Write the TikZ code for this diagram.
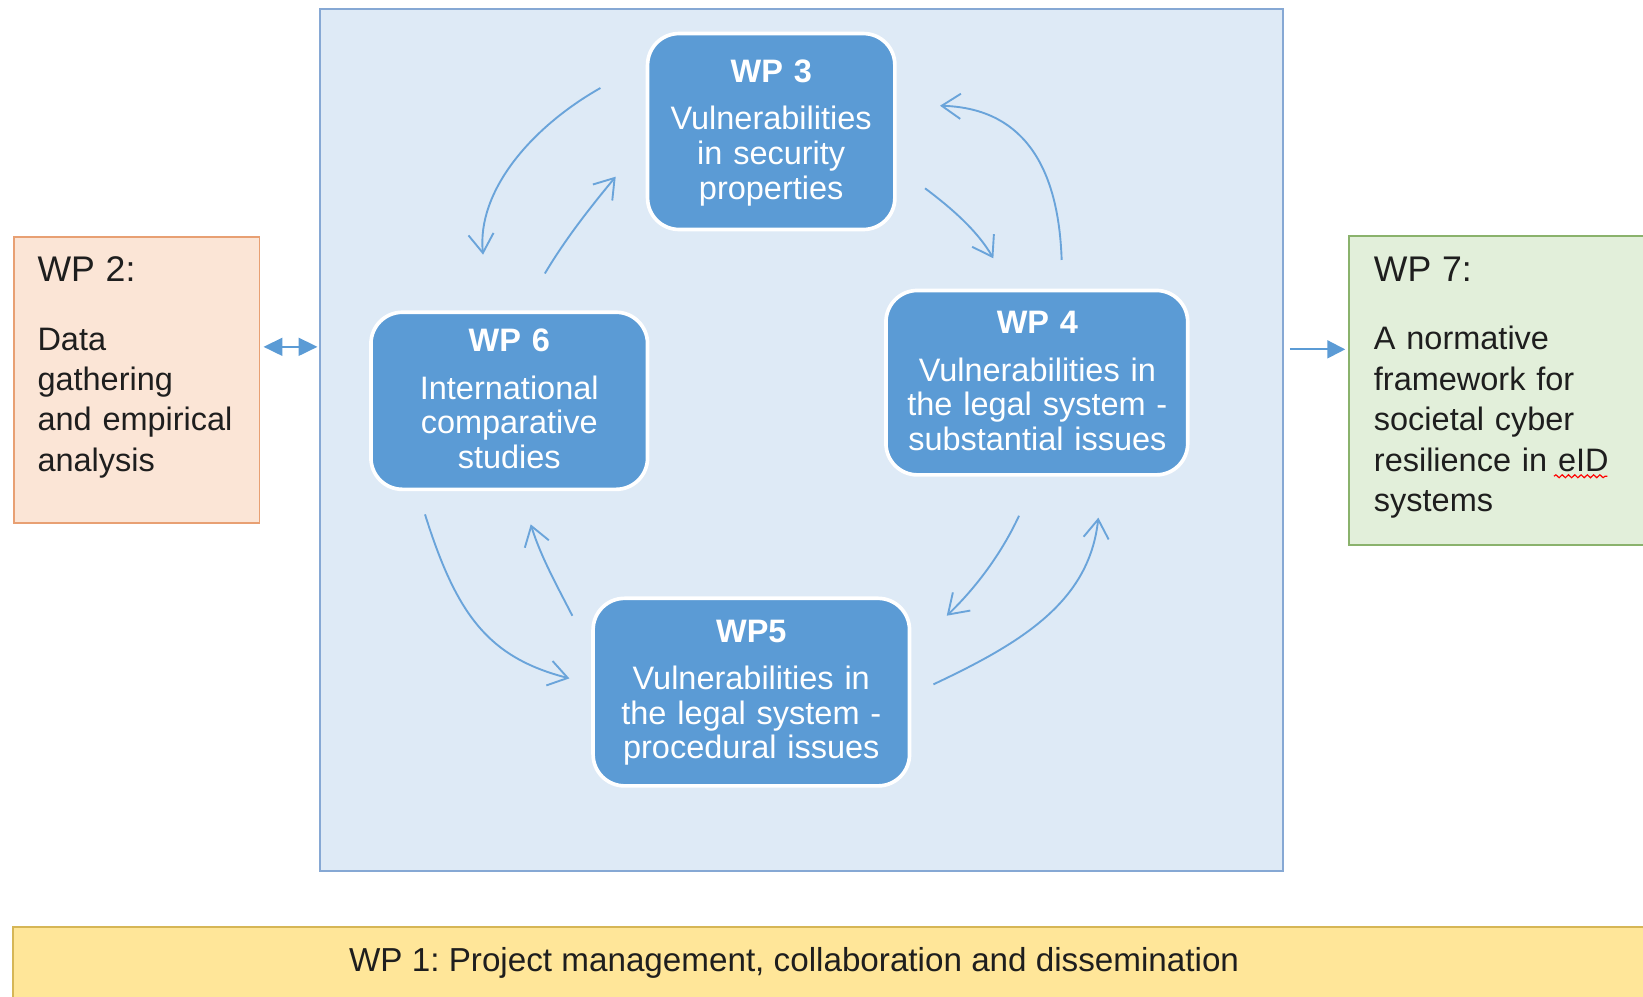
\documentclass[tikz,border=0pt]{standalone}
\usepackage{fontspec}
\setmainfont{Liberation Sans}
\usetikzlibrary{arrows.meta,decorations.pathmorphing}
\frenchspacing
\definecolor{bigfill}{HTML}{DEEAF6}
\definecolor{bigdraw}{HTML}{86A8D4}
\definecolor{boxblue}{HTML}{5B9BD5}
\definecolor{arrowblue}{HTML}{6AA4DA}
\definecolor{wptwofill}{HTML}{FBE5D6}
\definecolor{wptwodraw}{HTML}{E8A073}
\definecolor{wpsevenfill}{HTML}{E2EFDA}
\definecolor{wpsevendraw}{HTML}{8AB26C}
\definecolor{wponefill}{HTML}{FFE699}
\definecolor{wponedraw}{HTML}{D6B656}
\definecolor{inktext}{HTML}{1E1E1E}
\newcommand{\sidetitle}[1]{{\fontsize{34}{38.6}\selectfont #1}}
\tikzset{
  bluebox/.style={draw=white, line width=3.5pt, fill=boxblue, rounded corners=30pt, inner sep=0pt},
  boxtext/.style={text=white, align=center, text width=330pt, inner sep=0pt, anchor=base,
    font=\fontsize{31}{33}\selectfont},
  sidebox/.style={line width=1.8pt, inner sep=0pt, anchor=north west},
  sidetext/.style={text=inktext, align=left, text width=250pt, inner sep=0pt, anchor=base west,
    font=\fontsize{31}{38.6}\selectfont},
  cyc/.style={draw=arrowblue, line width=1.8pt, -{Straight Barb[length=18pt,width=24pt]}},
  solidarrow/.style={draw=boxblue, line width=2pt},
}
\begin{document}
\begin{tikzpicture}[x=1pt,y=-1pt]
\useasboundingbox (0,0) rectangle (1568,951);
\clip (0,0) rectangle (1568,951);
\fill[white] (0,0) rectangle (1568,951);

% big central frame
\node[draw=bigdraw, fill=bigfill, line width=2pt, inner sep=0pt, anchor=north west,
      minimum width=919pt, minimum height=822pt] (big) at (304,8) {};

% side boxes
\node[sidebox, draw=wptwodraw, fill=wptwofill, minimum width=234pt, minimum height=272.7pt] (wp2) at (12.7,225.2) {};
\node[sidetext] (wp2t) at (35.6,269) {\sidetitle{WP 2:}\\[26.5pt]Data\\gathering\\and empirical\\analysis};

\node[sidebox, draw=wpsevendraw, fill=wpsevenfill, minimum width=320pt, minimum height=295pt] (wp7) at (1286.8,224.3) {};
\node[sidetext] (wp7t) at (1311,268.8) {\sidetitle{WP 7:}\\[26.5pt]A normative\\framework for\\societal cyber\\resilience in eID\\systems};
\draw[red, line width=1.1pt, decorate, decoration={snake, amplitude=1.4pt, segment length=6pt}]
  (1483,454.5) -- (1534,454.5);

% bottom bar
\node[sidebox, draw=wponedraw, fill=wponefill, minimum width=1620pt, minimum height=120pt] (wp1) at (11.5,884) {};
\node[text=inktext, inner sep=0pt, anchor=base west, font=\fontsize{31.7}{33}\selectfont] (wp1t) at (333,927)
  {WP 1: Project management, collaboration and dissemination};

% blue work package boxes
\node[bluebox, minimum width=236pt, minimum height=187pt] (wp3) at (736,125.5) {};
\node[boxtext] (wp3t) at (736,79) {\textbf{WP 3}\\[12pt]Vulnerabilities\\in security\\properties};

\node[bluebox, minimum width=288pt, minimum height=176pt] (wp4) at (989.5,365.2) {};
\node[boxtext] (wp4t) at (990,318) {\textbf{WP 4}\\[13pt]Vulnerabilities in\\the legal system -\\substantial issues};

\node[bluebox, minimum width=264pt, minimum height=169pt] (wp6) at (486,382.5) {};
\node[boxtext] (wp6t) at (486,335.6) {\textbf{WP 6}\\[12.5pt]International\\comparative\\studies};

\node[bluebox, minimum width=302pt, minimum height=179pt] (wp5) at (717,660.5) {};
\node[boxtext] (wp5t) at (717,613.3) {\textbf{WP5}\\[12pt]Vulnerabilities in\\the legal system -\\procedural issues};

% connectors to side boxes
\coordinate (dbl) at (0,331);
\coordinate (single) at (0,333.4);
\draw[solidarrow, {Triangle[length=18pt,width=17pt]}-{Triangle[length=18pt,width=17pt]},
      shorten <=3pt, shorten >=1pt] (wp2.east |- dbl) -- (big.west |- dbl);
\draw[solidarrow, -{Triangle[length=17pt,width=17pt]}, shorten <=6pt, shorten >=3pt]
  (big.east |- single) -- (wp7.west |- single);

% cycle arrows
\coordinate (a1s) at (573,84);     \coordinate (a1e) at (461,243);
\coordinate (a2s) at (520,261);    \coordinate (a2e) at (587.6,168.6);
\coordinate (a3s) at (882.8,179.7);\coordinate (a3e) at (948,246.5);
\coordinate (a4s) at (1013.2,248.1);\coordinate (a4e) at (897.1,100.9);
\coordinate (a5s) at (972.5,492.2);\coordinate (a5e) at (903.5,587.6);
\coordinate (a6s) at (890.8,653.1);\coordinate (a6e) at (1048.2,494);
\coordinate (a7s) at (405.6,490.9);\coordinate (a7e) at (543.4,647.4);
\coordinate (a8s) at (546.2,587.6);\coordinate (a8e) at (506.5,500.4);

\draw[cyc] (a1s) .. controls (506,122) and (455,183) .. (a1e);
\draw[cyc] (a2s) .. controls (539.4,228.3) and (563.3,197.9) .. (a2e);
\draw[cyc] (a3s) .. controls (907.6,198.3) and (932.5,219.8) .. (a3e);
\draw[cyc] (a4s) .. controls (1010,152.6) and (972,103) .. (a4e);
\draw[cyc] (a5s) .. controls (956.1,527.7) and (931.6,560.7) .. (a5e);
\draw[cyc] (a6s) .. controls (976.8,612.7) and (1039.6,573.5) .. (a6e);
\draw[cyc] (a7s) .. controls (435.6,586.3) and (465.8,627.4) .. (a7e);
\draw[cyc] (a8s) .. controls (531.6,559.1) and (516,531) .. (a8e);
\end{tikzpicture}
\end{document}
